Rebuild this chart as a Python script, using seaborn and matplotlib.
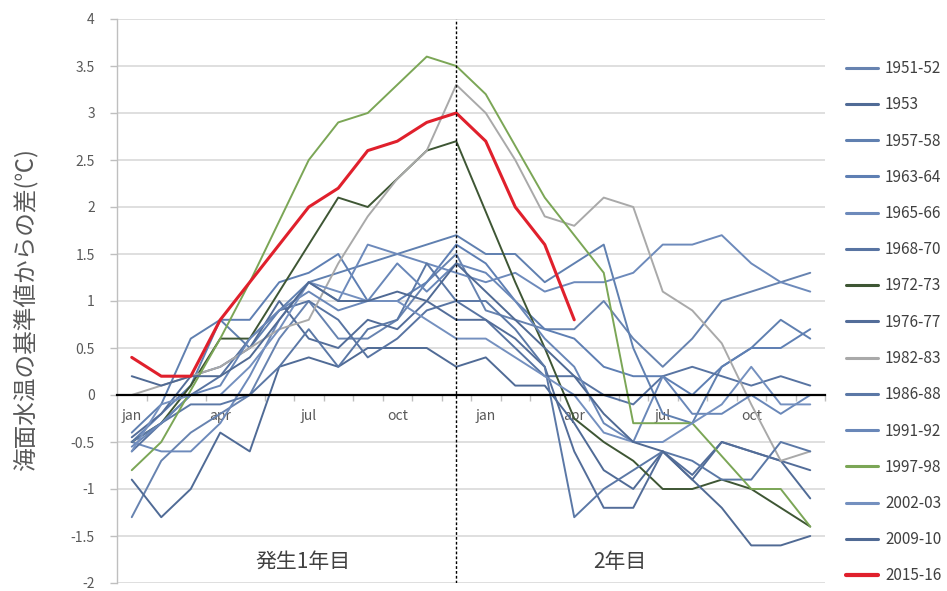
import numpy as np
import pandas as pd
import matplotlib
matplotlib.use("Agg")
import matplotlib.pyplot as plt
import seaborn as sns
from matplotlib.lines import Line2D

# ---- data -------------------------------------------------------------
months = ["jan", "feb", "mar", "apr", "may", "jun",
          "jul", "aug", "sep", "oct", "nov", "dec"] * 2
tick_label_pos = [0, 3, 6, 9, 12, 15, 18, 21]
tick_labels = ["jan", "apr", "jul", "oct", "jan", "apr", "jul", "oct"]

s1951_52 = [-1.3, -0.7, -0.4, -0.2, 0.0, 0.6, 1.0, 0.6, 0.6, 0.8, 1.2, 1.5,
            0.9, 0.8, 0.7, 0.7, 1.0, 0.6, 0.3, 0.6, 1.0, 1.1, 1.2, 1.3]
s1953 = [-0.9, -1.3, -1.0, -0.4, -0.6, 0.3, 0.4, 0.3, 0.5, 0.5, 0.5, 0.3,
         0.4, 0.1, 0.1, -0.3, -0.8, -1.0, -0.6, -0.9, -0.5, -0.6, -0.7, -1.1]
s1957_58 = [-0.4, -0.1, 0.6, 0.8, 0.5, 0.9, 1.2, 1.3, 1.4, 1.5, 1.6, 1.7,
            1.5, 1.5, 1.2, 1.4, 1.6, 0.5, -0.2, -0.3, 0.3, 0.5, 0.8, 0.6]
s1963_64 = [-0.5, -0.2, 0.1, 0.8, 0.8, 1.2, 1.3, 1.5, 1.0, 1.0, 1.2, 1.6,
            1.4, 1.0, 0.7, 0.6, 0.3, 0.2, 0.2, 0.0, 0.3, 0.5, 0.5, 0.7]
s1965_66 = [-0.5, -0.6, -0.6, -0.3, 0.2, 0.8, 1.2, 1.0, 1.6, 1.5, 1.4, 1.3,
            1.2, 1.3, 1.1, 1.2, 1.2, 1.3, 1.6, 1.6, 1.7, 1.4, 1.2, 1.1]
s1968_70 = [-0.6, -0.3, 0.0, 0.2, 0.6, 0.9, 1.0, 0.8, 0.4, 0.6, 0.9, 1.0,
            0.8, 0.5, 0.2, 0.2, 0.0, -0.1, 0.2, 0.3, 0.2, 0.1, 0.2, 0.1]
s1972_73 = [-0.5, -0.3, 0.1, 0.6, 0.6, 1.1, 1.6, 2.1, 2.0, 2.3, 2.6, 2.7,
            1.95, 1.2, 0.5, -0.25, -0.5, -0.7, -1.0, -1.0, -0.9, -1.0, -1.2, -1.4]
s1976_77 = [-0.45, -0.2, 0.2, 0.3, 0.5, 1.0, 0.6, 0.5, 0.8, 0.7, 1.0, 0.8,
            0.8, 0.6, 0.3, -0.6, -1.2, -1.2, -0.6, -0.85, -0.5, -0.6, -0.7, -0.8]
s1982_83 = [0.0, 0.1, 0.2, 0.3, 0.5, 0.7, 0.8, 1.4, 1.9, 2.3, 2.6, 3.3,
            3.0, 2.5, 1.9, 1.8, 2.1, 2.0, 1.1, 0.9, 0.55, -0.1, -0.7, -0.6]
s1986_88 = [-0.5, -0.3, -0.1, -0.1, 0.0, 0.3, 0.7, 0.3, 0.7, 0.8, 1.4, 1.0,
            1.0, 0.7, 0.3, -1.3, -1.0, -0.8, -0.6, -0.7, -0.9, -0.9, -0.5, -0.6]
s1991_92 = [-0.55, -0.3, 0.0, 0.1, 0.6, 0.9, 1.1, 0.9, 1.0, 1.4, 1.1, 1.4,
            1.3, 1.0, 0.6, 0.3, -0.3, -0.5, 0.2, -0.2, -0.2, 0.0, -0.2, 0.0]
s1997_98 = [-0.8, -0.5, 0.05, 0.6, 1.2, 1.85, 2.5, 2.9, 3.0, 3.3, 3.6, 3.5,
            3.2, 2.65, 2.1, 1.7, 1.3, -0.3, -0.3, -0.3, -0.65, -1.0, -1.0, -1.4]
s2002_03 = [-0.6, -0.1, 0.0, 0.0, 0.3, 0.7, 1.2, 1.1, 1.0, 1.0, 0.8, 0.6,
            0.6, 0.4, 0.2, 0.0, -0.4, -0.5, -0.5, -0.3, -0.1, 0.3, -0.1, -0.1]
s2009_10 = [0.2, 0.1, 0.2, 0.2, 0.4, 0.8, 1.2, 1.0, 1.0, 1.1, 1.0, 1.4,
            1.1, 0.8, 0.5, 0.2, -0.2, -0.5, -0.6, -0.9, -1.2, -1.6, -1.6, -1.5]
s2015_16 = [0.4, 0.2, 0.2, 0.8, 1.2, 1.6, 2.0, 2.2, 2.6, 2.7, 2.9, 3.0,
            2.7, 2.0, 1.6, 0.8]

series_names = ["1951-52", "1953", "1957-58", "1963-64", "1965-66", "1968-70",
                "1972-73", "1976-77", "1982-83", "1986-88", "1991-92",
                "1997-98", "2002-03", "2009-10", "2015-16"]
series_values = [s1951_52, s1953, s1957_58, s1963_64, s1965_66, s1968_70,
                 s1972_73, s1976_77, s1982_83, s1986_88, s1991_92,
                 s1997_98, s2002_03, s2009_10, s2015_16]

# ---- styles ------------------------------------------------------------
colors = {
    "1951-52": "#6783b0", "1953": "#506b96", "1957-58": "#6080b0",
    "1963-64": "#5e7fb3", "1965-66": "#6d8abb", "1968-70": "#5874a2",
    "1972-73": "#3e5634", "1976-77": "#536d99", "1982-83": "#a9a9a9",
    "1986-88": "#5b78a6", "1991-92": "#6987b8", "1997-98": "#7ba656",
    "2002-03": "#7490bf", "2009-10": "#506a94", "2015-16": "#e0202c",
}
widths = {n: 1.4 for n in series_names}
widths["2015-16"] = 2.2

rows = []
for name, vals in zip(series_names, series_values):
    for i, v in enumerate(vals):
        rows.append({"series": name, "m": i, "month": months[i], "v": v})
df = pd.DataFrame(rows)

sns.set_theme(style="white")
plt.rcParams["font.family"] = ["Noto Sans CJK JP", "DejaVu Sans"]

fig = plt.figure(figsize=(9.47, 5.91), dpi=100)
ax = fig.add_axes([117 / 947, 8 / 591, 708 / 947, 564 / 591])

for name in series_names:
    sns.lineplot(data=df[df["series"] == name], x="m", y="v", ax=ax,
                 color=colors[name], linewidth=widths[name],
                 legend=False, zorder=3)

ax.set_xlim(-0.5, 23.5)
ax.set_ylim(-2, 4)
ax.set_yticks(np.arange(-2, 4.01, 0.5))
ax.set_yticklabels([f"{t:g}" for t in np.arange(-2, 4.01, 0.5)])
ax.yaxis.grid(True, color="#d9d9d9", linewidth=1.2)
ax.xaxis.grid(False)
ax.set_axisbelow(True)
ax.set_xlabel("")
ax.set_ylabel("")

for s in ["top", "right"]:
    ax.spines[s].set_visible(False)
ax.spines["left"].set_color("#bfbfbf")
ax.spines["left"].set_linewidth(1.0)
ax.spines["bottom"].set_position(("data", 0))
ax.spines["bottom"].set_color("black")
ax.spines["bottom"].set_linewidth(1.6)
ax.spines["bottom"].set_zorder(4)

ax.tick_params(axis="y", length=5, width=1, color="#bfbfbf",
               labelcolor="#595959", labelsize=10, pad=11, left=True)
ax.set_xticks(np.arange(0.5, 24, 1))
ax.set_xticklabels([])
ax.set_xticks(tick_label_pos, tick_labels, minor=True)
ax.tick_params(axis="x", which="major", length=4, width=1, color="#bfbfbf",
               direction="out", bottom=True)
ax.tick_params(axis="x", which="minor", length=0, labelcolor="#595959",
               labelsize=10, pad=10)

ax.axvline(11, color="black", linewidth=1.0, linestyle=(0, (2, 1.5)), zorder=5)

ax.text(5.8, -1.78, "発生1年目", ha="center", va="center",
        fontsize=15, color="#404040")
ax.text(16.55, -1.78, "2年目", ha="center", va="center",
        fontsize=15, color="#404040")

fig.text(26 / 947, 1 - 310 / 591, "海面水温の基準値からの差(℃)",
         rotation=90, ha="center", va="center", fontsize=17, color="#595959")

handles = [Line2D([0], [0], color=colors[n], linewidth=widths[n] + 0.8)
           for n in series_names]
leg = fig.legend(handles, series_names, loc="upper left",
                 bbox_to_anchor=(846 / 947, 1 - 60 / 591), frameon=False,
                 fontsize=11, labelspacing=1.26, handlelength=2.1,
                 handletextpad=0.45, borderpad=0, borderaxespad=0)
for t in leg.get_texts():
    t.set_color("#404040")

fig.savefig("out.png", dpi=100)
